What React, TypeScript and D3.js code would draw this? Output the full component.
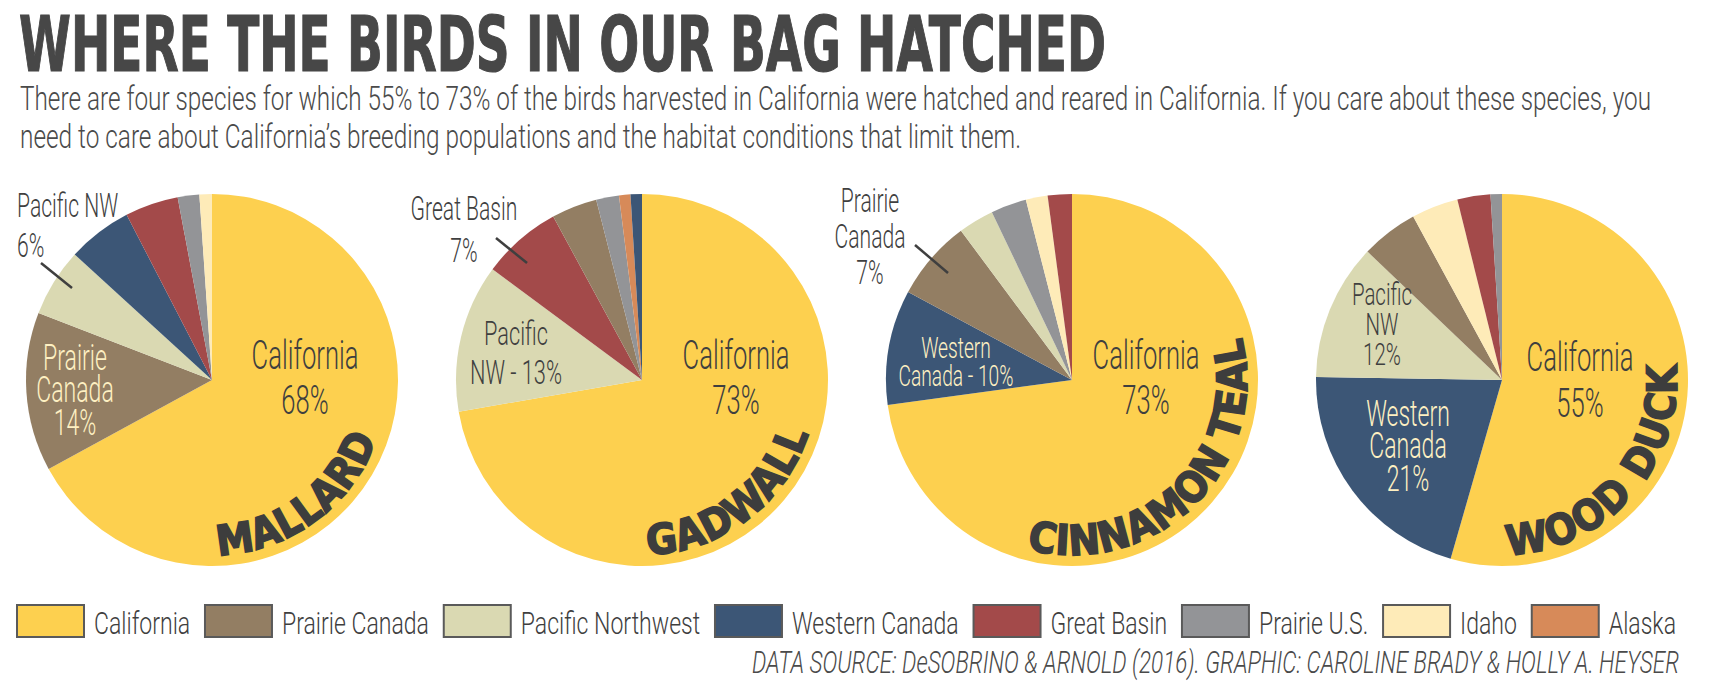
import React, { useEffect, useRef } from "react";
import * as d3 from "d3";

const W = 1709;
const H = 691;

// ---------- data ----------
const regionNames = [
  "California",
  "Prairie Canada",
  "Pacific Northwest",
  "Western Canada",
  "Great Basin",
  "Prairie U.S.",
  "Idaho",
  "Alaska",
];
const regionColors = [
  "#FDD04F",
  "#937E63",
  "#DAD9B2",
  "#3C5676",
  "#A34A4A",
  "#939497",
  "#FEEBB8",
  "#D78A59",
];

const speciesNames = ["MALLARD", "GADWALL", "CINNAMON TEAL", "WOOD DUCK"];

const mallardRegions = ["California", "Prairie Canada", "Pacific Northwest", "Western Canada", "Great Basin", "Prairie U.S.", "Idaho"];
const mallardValues = [68, 14, 6, 5.7, 4.7, 1.9, 1.1];

const gadwallRegions = ["California", "Pacific Northwest", "Great Basin", "Prairie Canada", "Prairie U.S.", "Alaska", "Western Canada"];
const gadwallValues = [73, 13, 7, 4, 2, 1, 1];

const tealRegions = ["California", "Western Canada", "Prairie Canada", "Pacific Northwest", "Prairie U.S.", "Idaho", "Great Basin"];
const tealValues = [73, 10, 7, 3.1, 3.1, 1.9, 2.1];

const woodDuckRegions = ["California", "Western Canada", "Pacific Northwest", "Prairie Canada", "Idaho", "Great Basin", "Prairie U.S."];
const woodDuckValues = [55, 21, 12, 5, 4.1, 2.9, 1];

const mallardLabels = [["California", "68%"], ["Prairie", "Canada", "14%"], ["Pacific NW", "6%"]];
const gadwallLabels = [["California", "73%"], ["Pacific", "NW - 13%"], ["Great Basin", "7%"]];
const tealLabels = [["California", "73%"], ["Western", "Canada - 10%"], ["Prairie", "Canada", "7%"]];
const woodDuckLabels = [["California", "55%"], ["Pacific", "NW", "12%"], ["Western", "Canada", "21%"]];

const titleText = "WHERE THE BIRDS IN OUR BAG HATCHED";
const subtitleLines = [
  "There are four species for which 55% to 73% of the birds harvested in California were hatched and reared in California. If you care about these species, you",
  "need to care about California\u2019s breeding populations and the habitat conditions that limit them.",
];
const sourceText = "DATA SOURCE: DeSOBRINO & ARNOLD (2016). GRAPHIC: CAROLINE BRADY & HOLLY A. HEYSER";

// ---------- layout / style ----------
const DARK = "#3f3f3f";
const CREAM = "#FEF0C2";
const LIGHT_FONT = "Roboto, 'Open Sans', 'Liberation Sans Narrow', sans-serif";
const HEAVY_FONT = "'DejaVu Sans Condensed', 'DejaVu Sans', sans-serif";
const SX = 0.64; // horizontal condensing of light text

const pies = [
  { regions: mallardRegions, values: mallardValues, labels: mallardLabels },
  { regions: gadwallRegions, values: gadwallValues, labels: gadwallLabels },
  { regions: tealRegions, values: tealValues, labels: tealLabels },
  { regions: woodDuckRegions, values: woodDuckValues, labels: woodDuckLabels },
];

// label placement per pie (relative to pie centre): x, first-line centre y, line height, size, colour, anchor
const labelLayout = [
  [
    { dx: 93, dy: -25, lh: 45, size: 40, color: DARK, anchor: "middle" },
    { dx: -137, dy: -23, lh: 32.5, size: 36, color: CREAM, anchor: "middle" },
    { dx: -195, dy: -175, lh: 40, size: 33, color: DARK, anchor: "start", leader: [-171, -117, -140, -92] },
  ],
  [
    { dx: 94, dy: -25, lh: 45, size: 40, color: DARK, anchor: "middle" },
    { dx: -126, dy: -47, lh: 39, size: 34, color: DARK, anchor: "middle" },
    { dx: -178, dy: -172, lh: 42, size: 33, color: DARK, anchor: "middle", leader: [-146, -142, -115, -117] },
  ],
  [
    { dx: 74, dy: -25, lh: 45, size: 40, color: DARK, anchor: "middle" },
    { dx: -116, dy: -33, lh: 28, size: 30, color: CREAM, anchor: "middle" },
    { dx: -202, dy: -180, lh: 36, size: 33, color: DARK, anchor: "middle", leader: [-157, -135, -124, -107] },
  ],
  [
    { dx: 78, dy: -23, lh: 46, size: 40, color: DARK, anchor: "middle" },
    { dx: -120, dy: -87, lh: 30, size: 32, color: DARK, anchor: "middle" },
    { dx: -94, dy: 33, lh: 32.5, size: 36, color: CREAM, anchor: "middle" },
  ],
];

// species name arc: start / end angle (degrees clockwise from 12 o'clock)
const nameArcs = [
  [178, 110],
  [178, 108],
  [195, 76],
  [178, 85],
];

const PIE_R = 186;
const PIE_CY = 380;
const NAME_R = 175;

const colorScale = d3.scaleOrdinal<string, string>().domain(regionNames).range(regionColors);
const centerX = d3.scalePoint<string>().domain(speciesNames).range([212, 1502]);

export default function App() {
  const legendRef = useRef<SVGGElement>(null);

  useEffect(() => {
    const g = d3.select(legendRef.current);
    g.selectAll("*").remove();
    const LSX = 0.72;
    const sw = 67;
    const gap1 = 9;
    const left = 16;
    const right = 1676;
    const texts = regionNames.map((n) =>
      g
        .append("text")
        .attr("font-family", LIGHT_FONT)
        .attr("font-weight", 300)
        .attr("font-size", 32)
        .attr("fill", DARK)
        .text(n)
    );
    const widths = texts.map((t) => (t.node() as SVGTextElement).getComputedTextLength() * LSX);
    const total = regionNames.length * (sw + 2 + gap1) + d3.sum(widths);
    const gap2 = (right - left - total) / (regionNames.length - 1);
    let x = left;
    regionNames.forEach((n, i) => {
      g.insert("rect", "text")
        .attr("x", x + 1)
        .attr("y", 605)
        .attr("width", sw)
        .attr("height", 32)
        .attr("fill", colorScale(n))
        .attr("stroke", "#5a5a5a")
        .attr("stroke-width", 2);
      x += sw + 2 + gap1;
      texts[i].attr("transform", `translate(${x},634) scale(${LSX},1)`);
      x += widths[i] + gap2;
    });
  }, []);

  const pieGen = d3
    .pie<number>()
    .sort(null)
    .value((d) => d);
  const arcGen = d3.arc<d3.PieArcDatum<number>>().innerRadius(0).outerRadius(PIE_R);

  return (
    <svg
      width={W}
      height={H}
      style={{ position: "absolute", left: 0, top: 0, background: "#fff" }}
    >
      <text
        x={19}
        y={71}
        fontFamily={HEAVY_FONT}
        fontWeight="bold"
        fontSize={76}
        fill="#474747"
        stroke="#474747"
        strokeWidth={1.2}
        textLength={1087}
        lengthAdjust="spacingAndGlyphs"
      >
        {titleText}
      </text>
      {subtitleLines.map((l, i) => (
        <text
          key={i}
          x={20}
          y={110 + i * 38}
          fontFamily={LIGHT_FONT}
          fontWeight={300}
          fontSize={33}
          fill="#4a4a4a"
          textLength={i === 0 ? 1631 : 1001}
          lengthAdjust="spacingAndGlyphs"
        >
          {l}
        </text>
      ))}

      {pies.map((p, pi) => {
        const cx = centerX(speciesNames[pi]) as number;
        const arcs = pieGen(p.values);
        const [a0, a1] = nameArcs[pi];
        const path = d3.path();
        path.arc(cx, PIE_CY, NAME_R, ((a0 - 90) * Math.PI) / 180, ((a1 - 90) * Math.PI) / 180, true);
        const arcLen = (NAME_R * Math.abs(a0 - a1) * Math.PI) / 180;
        const pid = `name-arc-${pi}`;
        return (
          <g key={pi}>
            <g transform={`translate(${cx},${PIE_CY})`}>
              {arcs.map((a, i) => (
                <path key={i} d={arcGen(a) as string} fill={colorScale(p.regions[i])} />
              ))}
            </g>
            <path id={pid} d={path.toString()} fill="none" stroke="none" />
            <text
              fontFamily={HEAVY_FONT}
              fontWeight="bold"
              fontSize={42}
              fill="#3d3d3d"
              stroke="#3d3d3d"
              strokeWidth={1.6}
              textLength={arcLen}
              lengthAdjust="spacing"
            >
              <textPath href={`#${pid}`} startOffset={0}>
                {speciesNames[pi]}
              </textPath>
            </text>
            {p.labels.map((lines, li) => {
              const L = labelLayout[pi][li];
              return (
                <g key={li}>
                  {L.leader && (
                    <line
                      x1={cx + L.leader[0]}
                      y1={PIE_CY + L.leader[1]}
                      x2={cx + L.leader[2]}
                      y2={PIE_CY + L.leader[3]}
                      stroke={DARK}
                      strokeWidth={2.5}
                    />
                  )}
                  {lines.map((t, k) => (
                    <text
                      key={k}
                      transform={`translate(${cx + L.dx},${PIE_CY + L.dy + k * L.lh + L.size * 0.36}) scale(${SX},1)`}
                      textAnchor={L.anchor}
                      fontFamily={LIGHT_FONT}
                      fontWeight={300}
                      fontSize={L.size}
                      fill={L.color}
                    >
                      {t}
                    </text>
                  ))}
                </g>
              );
            })}
          </g>
        );
      })}

      <g ref={legendRef} />

      <text
        x={752}
        y={673}
        fontFamily={LIGHT_FONT}
        fontWeight={300}
        fontStyle="italic"
        fontSize={32}
        fill="#4a4a4a"
        textLength={927}
        lengthAdjust="spacingAndGlyphs"
      >
        {sourceText}
      </text>
    </svg>
  );
}
